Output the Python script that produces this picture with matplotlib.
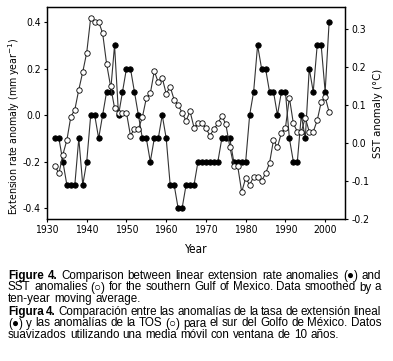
import numpy as np
import matplotlib
matplotlib.use('Agg')
import matplotlib.pyplot as plt
from matplotlib import font_manager as fm

# Pick a narrow sans font for the chart texts if one is installed
plt.rcParams['font.family'] = ['Liberation Sans', 'DejaVu Sans']
plt.rcParams['axes.unicode_minus'] = False

narrow_fp = None
for f in fm.fontManager.ttflist:
    nm = f.name + ' ' + str(f.stretch)
    if ('Narrow' in nm or 'ondensed' in nm) and f.style == 'normal' and f.weight in (400, 'normal', 'regular'):
        narrow_fp = fm.FontProperties(fname=f.fname)
        break
chart_fp = narrow_fp if narrow_fp is not None else fm.FontProperties(family=['Liberation Sans', 'DejaVu Sans'])

# Data (10-yr moving averages)
years = np.arange(1932, 2002)

ext_rate = [-0.1, -0.1, -0.2, -0.3, -0.3, -0.3, -0.1, -0.3, -0.2, 0.0,
            0.0, -0.1, 0.0, 0.1, 0.1, 0.3, 0.0, 0.1, 0.2, 0.2,
            0.1, 0.0, -0.1, -0.1, -0.2, -0.1, -0.1, 0.0, -0.1, -0.3,
            -0.3, -0.4, -0.4, -0.3, -0.3, -0.3, -0.2, -0.2, -0.2, -0.2,
            -0.2, -0.2, -0.1, -0.1, -0.1, -0.2, -0.2, -0.2, -0.2, 0.0,
            0.1, 0.3, 0.2, 0.2, 0.1, 0.1, 0.0, 0.1, 0.1, -0.1,
            -0.2, -0.2, 0.0, -0.1, 0.2, 0.1, 0.3, 0.3, 0.1, 0.4]

sst = [-0.060, -0.080, -0.030, 0.008, 0.070, 0.088, 0.141, 0.188, 0.239, 0.331,
       0.320, 0.320, 0.290, 0.209, 0.150, 0.093, 0.079, 0.080, 0.080, 0.020,
       0.038, 0.038, 0.068, 0.119, 0.131, 0.190, 0.160, 0.172, 0.130, 0.149,
       0.114, 0.101, 0.080, 0.059, 0.084, 0.041, 0.052, 0.052, 0.039, 0.020,
       0.037, 0.052, 0.072, 0.050, -0.009, -0.060, -0.061, -0.129, -0.092, -0.110,
       -0.089, -0.089, -0.100, -0.080, -0.053, 0.008, -0.011, 0.028, 0.040, 0.120,
       0.052, 0.030, 0.030, 0.067, 0.030, 0.030, 0.060, 0.108, 0.122, 0.082]

left_ticks = [-0.4, -0.2, 0.0, 0.2, 0.4]
right_ticks = [-0.2, -0.1, 0.0, 0.1, 0.2, 0.3]
x_ticks = [1930, 1940, 1950, 1960, 1970, 1980, 1990, 2000]

fig = plt.figure(figsize=(3.93, 3.61), dpi=100)
ax = fig.add_axes([0.1196, 0.3934, 0.7583, 0.5872])
ax2 = ax.twinx()

# Extension rate (filled) on left axis
ax.plot(years, ext_rate, color='#333333', lw=0.8, marker='o', ms=3.9,
        mfc='black', mec='black', mew=0.6, zorder=3)
# SST (open) on right axis
ax2.plot(years, sst, color='#333333', lw=0.8, marker='o', ms=3.9,
         mfc='white', mec='black', mew=0.6, zorder=3)

ax.set_xlim(1930, 2005)
ax.set_ylim(-0.446, 0.464)
ax2.set_ylim(-0.2, 0.359)

tick_size = 7.5 if narrow_fp is not None else 7.0
lab_size = 7.6 if narrow_fp is not None else 7.3

ax.set_xticks(x_ticks)
ax.set_xticklabels([str(v) for v in x_ticks], fontproperties=chart_fp, fontsize=tick_size)
ax.set_yticks(left_ticks)
ax.set_yticklabels(['%.1f' % v for v in left_ticks], fontproperties=chart_fp, fontsize=tick_size)
ax2.set_yticks(right_ticks)
ax2.set_yticklabels(['%.1f' % v for v in right_ticks], fontproperties=chart_fp, fontsize=tick_size)

for a in (ax, ax2):
    a.tick_params(direction='out', length=2.5, width=0.8, pad=2)
    for s in a.spines.values():
        s.set_linewidth(0.9)

ax.set_xlabel('Year', fontproperties=chart_fp, fontsize=lab_size + 0.9)
ax.xaxis.set_label_coords(0.5, -0.112)
ax.set_ylabel('Extension rate anomaly (mm year$^{-1}$)', fontproperties=chart_fp, fontsize=lab_size)
ax.yaxis.set_label_coords(-0.085, 0.44)
ax2.set_ylabel('SST anomaly (\u00b0C)', fontproperties=chart_fp, fontsize=lab_size + 0.5, rotation=90)
ax2.yaxis.set_label_coords(1.095, 0.5)

# Caption below the chart
fig.canvas.draw()
renderer = fig.canvas.get_renderer()
x0, x1 = 8 / 393, 381 / 393
cap_size = 8.4


def text_width(s, bold=False):
    t = fig.text(0, 0, s, fontsize=cap_size, fontweight='bold' if bold else 'normal')
    w = t.get_window_extent(renderer).width / fig.bbox.width
    t.remove()
    return w


def caption_line(y, words, justify=True, bold_first=0):
    # words spread between x0 and x1 (justified), or plain spacing
    widths = [text_width(w, i < bold_first) for i, w in enumerate(words)]
    sw = text_width('a b') - text_width('ab')
    gap = sw
    if justify and len(words) > 1:
        gap = max((x1 - x0 - sum(widths)) / (len(words) - 1), 0.6 * sw)
    x = x0
    for i, (w, wd) in enumerate(zip(words, widths)):
        fig.text(x, y, w, fontsize=cap_size, va='baseline', ha='left',
                 fontweight='bold' if i < bold_first else 'normal')
        x += wd + gap


lines = [
    ('Figure 4. Comparison between linear extension rate anomalies (\u25cf) and', True, 2),
    ('SST anomalies (\u25cb) for the southern Gulf of Mexico. Data smoothed by a', True, 0),
    ('ten-year moving average.', False, 0),
    ('Figura 4. Comparaci\u00f3n entre las anomal\u00edas de la tasa de extensi\u00f3n lineal', True, 2),
    ('(\u25cf) y las anomal\u00edas de la TOS (\u25cb) para el sur del Golfo de M\u00e9xico. Datos', True, 0),
    ('suavizados utilizando una media m\u00f3vil con ventana de 10 a\u00f1os.', False, 0),
]
baselines = [279, 290.5, 302, 315, 326.5, 338]
for (txt, just, nb), yb in zip(lines, baselines):
    caption_line(1 - yb / 361, txt.split(' '), justify=just, bold_first=nb)

fig.savefig('out.png', dpi=100)
